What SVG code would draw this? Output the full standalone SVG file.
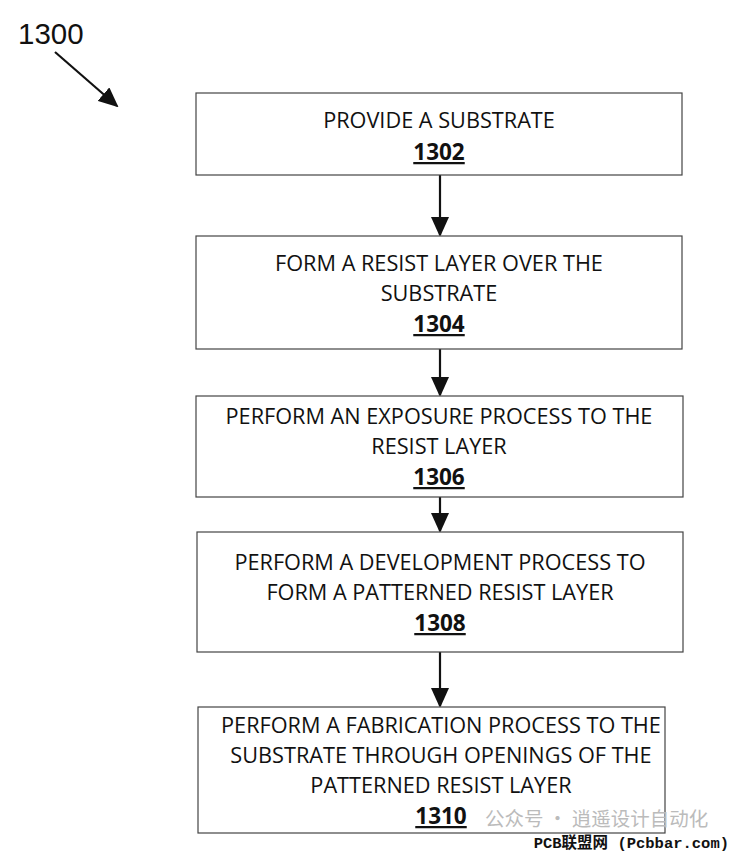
<svg xmlns="http://www.w3.org/2000/svg" width="733" height="852" viewBox="0 0 733 852">
<style>
.box{fill:#fff;stroke:#444;stroke-width:1.2}
.t{font-family:"Open Sans","Liberation Sans",sans-serif;font-size:21.7px;fill:#111;text-anchor:middle}
.n{font-family:"Open Sans","Liberation Sans",sans-serif;font-size:22.5px;font-weight:bold;fill:#111;text-anchor:middle;text-decoration:underline}
.c{stroke:#111;stroke-width:2.2;fill:none}
</style>
<defs>
<marker id="ah2" markerWidth="20" markerHeight="18" refX="18" refY="9" orient="auto" markerUnits="userSpaceOnUse" viewBox="0 0 20 18">
<path d="M0,0 L20,9 L0,18 z" fill="#111"/>
</marker>
</defs>
<g id="label1300">
<text x="18" y="44" style="font-family:'Liberation Sans',sans-serif;font-size:29.5px;fill:#111">1300</text>
</g>
<g id="connectors">
<line class="c" x1="55" y1="52" x2="117" y2="106" marker-end="url(#ah2)"/>
<line class="c" x1="440" y1="175" x2="440" y2="235" marker-end="url(#ah2)"/>
<line class="c" x1="440" y1="349" x2="440" y2="395" marker-end="url(#ah2)"/>
<line class="c" x1="440" y1="497" x2="440" y2="531" marker-end="url(#ah2)"/>
<line class="c" x1="440" y1="652" x2="440" y2="706" marker-end="url(#ah2)"/>
</g>
<g id="n1302">
<rect class="box" x="196" y="93" width="486" height="82"/>
<text class="t" x="439" y="128">PROVIDE A SUBSTRATE</text>
<text class="n" x="439" y="160">1302</text>
</g>
<g id="n1304">
<rect class="box" x="196" y="236" width="486" height="113"/>
<text class="t" x="439" y="271">FORM A RESIST LAYER OVER THE</text>
<text class="t" x="439" y="301">SUBSTRATE</text>
<text class="n" x="439" y="332">1304</text>
</g>
<g id="n1306">
<rect class="box" x="196" y="396" width="487" height="101"/>
<text class="t" x="439" y="424">PERFORM AN EXPOSURE PROCESS TO THE</text>
<text class="t" x="439" y="454">RESIST LAYER</text>
<text class="n" x="439" y="485">1306</text>
</g>
<g id="n1308">
<rect class="box" x="197" y="532" width="486" height="120"/>
<text class="t" x="440" y="570">PERFORM A DEVELOPMENT PROCESS TO</text>
<text class="t" x="440" y="600">FORM A PATTERNED RESIST LAYER</text>
<text class="n" x="440" y="631">1308</text>
</g>
<g id="n1310">
<rect class="box" x="198" y="707" width="467" height="126"/>
<text class="t" x="441" y="733">PERFORM A FABRICATION PROCESS TO THE</text>
<text class="t" x="441" y="763">SUBSTRATE THROUGH OPENINGS OF THE</text>
<text class="t" x="441" y="793">PATTERNED RESIST LAYER</text>
<text class="n" x="441" y="824">1310</text>
</g>
<g id="watermark">
<text x="485" y="826" style="font-family:'Noto Sans CJK SC',sans-serif;font-size:19.5px;fill:#bbb">公众号 · 逍遥设计自动化</text>
<text x="729" y="848" style="font-family:'Liberation Mono','Noto Sans CJK SC',monospace;font-size:15.5px;font-weight:bold;fill:#111;text-anchor:end">PCB联盟网 (Pcbbar.com)</text>
</g>
</svg>
